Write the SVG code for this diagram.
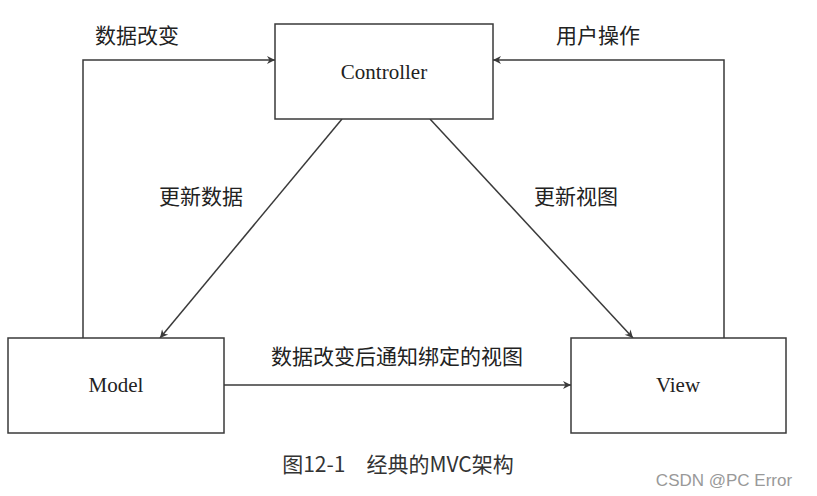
<svg xmlns="http://www.w3.org/2000/svg" width="817" height="496" viewBox="0 0 817 496">
<style>
.box{fill:#fff;stroke:#3a3a3a;stroke-width:1.5}
.ln{fill:none;stroke:#3a3a3a;stroke-width:1.5;marker-end:url(#ah)}
.t{font-family:"Liberation Serif","Noto Sans CJK SC",serif;font-size:21px;fill:#222;text-anchor:middle}
.c{font-family:"Noto Sans CJK SC",sans-serif;font-size:21px;fill:#222;text-anchor:middle}
</style>
<defs><marker id="ah" viewBox="0 0 10 10" refX="10" refY="5" markerWidth="10" markerHeight="8" markerUnits="userSpaceOnUse" orient="auto"><path d="M0,0 L10,5 L0,10 L3,5 Z" fill="#3a3a3a"/></marker></defs>
<rect width="817" height="496" fill="#fff"/>
<g id="connectors">
<path class="ln" d="M83,338 V60 H275"/>
<path class="ln" d="M724,338 V60 H493"/>
<path class="ln" d="M342,119 L160,338"/>
<path class="ln" d="M430,119 L633,338"/>
<path class="ln" d="M224,385 H571"/>
<text class="c" x="137" y="43">数据改变</text>
<text class="c" x="598" y="43">用户操作</text>
<text class="c" x="201" y="204">更新数据</text>
<text class="c" x="576" y="204">更新视图</text>
<text class="c" x="397" y="364">数据改变后通知绑定的视图</text>
</g>
<g id="controller"><rect class="box" x="275" y="24" width="218" height="95"/><text class="t" x="384" y="79">Controller</text></g>
<g id="model"><rect class="box" x="8" y="338" width="216" height="95"/><text class="t" x="116" y="392">Model</text></g>
<g id="view"><rect class="box" x="571" y="338" width="215" height="95"/><text class="t" x="678" y="392">View</text></g>
<text class="c" x="398" y="472" style="font-size:21px;fill:#333">图12-1　经典的MVC架构</text>
<text x="724" y="486" style="font-family:'Liberation Sans',sans-serif;font-size:17px;fill:#999;text-anchor:middle">CSDN @PC Error</text>
</svg>
